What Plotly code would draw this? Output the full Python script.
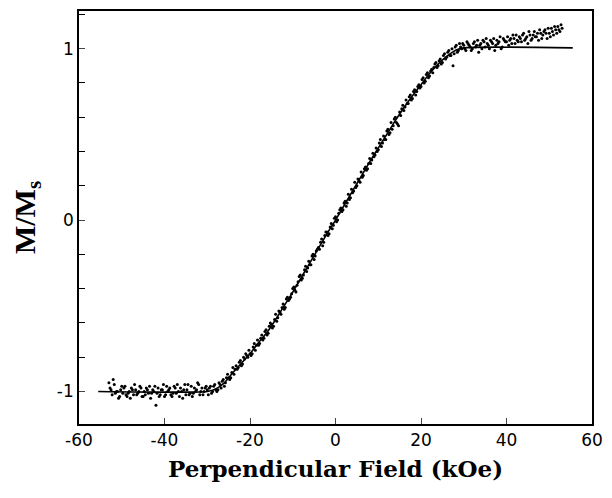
import plotly.graph_objects as go

# Fitted curve (solid line)
fit_field = [-55.5, -30, -28, -26, -24, -22, -20, -18, -16, -14, -12, -10, -8, -6, -4, -2,
             0, 2, 4, 6, 8, 10, 12, 14, 16, 18, 20, 22, 24, 26, 28, 30, 55.5]
fit_m = [-1.0, -1.0, -0.985, -0.95, -0.89, -0.835, -0.78, -0.715, -0.655, -0.58, -0.50, -0.42,
         -0.335, -0.25, -0.165, -0.08, 0.0, 0.085, 0.17, 0.255, 0.34, 0.42, 0.50, 0.58, 0.655,
         0.725, 0.79, 0.855, 0.91, 0.955, 0.99, 1.005, 1.005]

# Measured points, first sweep
field_a = [
    -53.0, -52.5, -52.0, -51.5, -51.0, -50.5, -50.0, -49.5, -49.0, -48.5, -48.0, -47.5, -47.0, -46.5,
    -46.0, -45.5, -45.0, -44.5, -44.0, -43.5, -43.0, -42.5, -42.0, -41.5, -41.0, -40.5, -40.0, -39.5,
    -39.0, -38.5, -38.0, -37.5, -37.0, -36.5, -36.0, -35.5, -35.0, -34.5, -34.0, -33.5, -33.0, -32.5,
    -32.0, -31.5, -31.0, -30.5, -30.0,
    -29.5, -29.0, -28.5, -28.0, -27.5, -27.0, -26.5, -26.0, -25.5, -25.0,
    -24.5, -24.0, -23.5, -23.0, -22.5, -22.0, -21.5, -21.0, -20.5, -20.0,
    -19.5, -19.0, -18.5, -18.0, -17.5, -17.0, -16.5, -16.0, -15.5, -15.0,
    -14.5, -14.0, -13.5, -13.0, -12.5, -12.0, -11.5, -11.0, -10.5, -10.0,
    -9.5, -9.0, -8.5, -8.0, -7.5, -7.0, -6.5, -6.0, -5.5, -5.0,
    -4.5, -4.0, -3.5, -3.0, -2.5, -2.0, -1.5, -1.0, -0.5, 0.0,
    0.5, 1.0, 1.5, 2.0, 2.5, 3.0, 3.5, 4.0, 4.5, 5.0,
    5.5, 6.0, 6.5, 7.0, 7.5, 8.0, 8.5, 9.0, 9.5, 10.0,
    10.5, 11.0, 11.5, 12.0, 12.5, 13.0, 13.5, 14.0, 14.5, 15.0,
    15.5, 16.0, 16.5, 17.0, 17.5, 18.0, 18.5, 19.0, 19.5, 20.0,
    20.5, 21.0, 21.5, 22.0, 22.5, 23.0, 23.5, 24.0, 24.5, 25.0,
    25.5, 26.0, 26.5, 27.0, 27.5, 28.0, 28.5, 29.0, 29.5,
    30.0, 30.5, 31.0, 31.5, 32.0, 32.5, 33.0, 33.5, 34.0, 34.5,
    35.0, 35.5, 36.0, 36.5, 37.0, 37.5, 38.0, 38.5, 39.0, 39.5,
    40.0, 40.5, 41.0, 41.5, 42.0, 42.5, 43.0, 43.5, 44.0, 44.5,
    45.0, 45.5, 46.0, 46.5, 47.0, 47.5, 48.0, 48.5, 49.0, 49.5,
    50.0, 50.5, 51.0, 51.5, 52.0, 52.5, 53.0,
]
m_a = [
    -0.95, -0.99, -0.93, -1.01, -1.00, -1.03, -0.97, -0.98, -1.02, -1.01, -1.04, -0.99, -0.96, -1.02,
    -1.00, -0.98, -1.03, -1.02, -0.99, -0.97, -1.01, -1.00, -1.08, -0.98, -1.02, -0.99, -1.03, -0.97,
    -0.99, -1.02, -1.01, -0.98, -0.96, -1.03, -1.00, -0.99, -1.02, -0.96, -1.01, -1.03, -0.98, -0.99,
    -0.96, -1.00, -1.02, -0.98, -0.99,
    -0.98, -1.01, -0.97, -0.99, -0.99, -0.96, -0.94, -0.97, -0.92, -0.92,
    -0.92, -0.86, -0.87, -0.87, -0.83, -0.85, -0.80, -0.78, -0.80, -0.78,
    -0.78, -0.72, -0.73, -0.73, -0.69, -0.70, -0.65, -0.67, -0.62, -0.61,
    -0.62, -0.55, -0.57, -0.54, -0.51, -0.52, -0.46, -0.47, -0.45, -0.40,
    -0.41, -0.38, -0.33, -0.35, -0.32, -0.27, -0.28, -0.26, -0.21, -0.23,
    -0.18, -0.16, -0.13, -0.15, -0.09, -0.07, -0.08, -0.02, -0.03, 0.02,
    0.00, 0.06, 0.05, 0.10, 0.08, 0.15, 0.13, 0.16, 0.22, 0.20,
    0.23, 0.28, 0.26, 0.31, 0.30, 0.36, 0.35, 0.37, 0.42, 0.41,
    0.47, 0.45, 0.47, 0.52, 0.50, 0.57, 0.55, 0.60, 0.56, 0.63,
    0.65, 0.64, 0.70, 0.68, 0.73, 0.71, 0.76, 0.75, 0.79, 0.78,
    0.83, 0.81, 0.86, 0.84, 0.88, 0.89, 0.92, 0.90, 0.94, 0.92,
    0.97, 0.95, 0.99, 0.96, 0.90, 1.01, 0.98, 1.03, 1.00,
    1.02, 0.99, 1.03, 1.01, 1.00, 1.04, 1.02, 0.98, 1.03, 1.05,
    1.01, 1.03, 1.00, 1.04, 1.06, 1.02, 1.03, 1.07, 1.01, 1.05,
    1.04, 1.02, 1.06, 1.08, 1.03, 1.05, 1.07, 1.04, 1.09, 1.06,
    1.03, 1.08, 1.06, 1.10, 1.07, 1.05, 1.09, 1.08, 1.11, 1.06,
    1.09, 1.12, 1.08, 1.11, 1.13, 1.10, 1.12,
]

# Measured points, second sweep
field_b = [
    -52.75, -52.25, -51.75, -51.25, -50.75, -50.25, -49.75, -49.25, -48.75, -48.25, -47.75, -47.25, -46.75, -46.25,
    -45.75, -45.25, -44.75, -44.25, -43.75, -43.25, -42.75, -42.25, -41.75, -41.25, -40.75, -40.25, -39.75, -39.25,
    -38.75, -38.25, -37.75, -37.25, -36.75, -36.25, -35.75, -35.25, -34.75, -34.25, -33.75, -33.25, -32.75, -32.25,
    -31.75, -31.25, -30.75, -30.25,
    -29.75, -29.25, -28.75, -28.25, -27.75, -27.25, -26.75, -26.25, -25.75, -25.25,
    -24.75, -24.25, -23.75, -23.25, -22.75, -22.25, -21.75, -21.25, -20.75, -20.25,
    -19.75, -19.25, -18.75, -18.25, -17.75, -17.25, -16.75, -16.25, -15.75, -15.25,
    -14.75, -14.25, -13.75, -13.25, -12.75, -12.25, -11.75, -11.25, -10.75, -10.25,
    -9.75, -9.25, -8.75, -8.25, -7.75, -7.25, -6.75, -6.25, -5.75, -5.25,
    -4.75, -4.25, -3.75, -3.25, -2.75, -2.25, -1.75, -1.25, -0.75, -0.25,
    0.25, 0.75, 1.25, 1.75, 2.25, 2.75, 3.25, 3.75, 4.25, 4.75,
    5.25, 5.75, 6.25, 6.75, 7.25, 7.75, 8.25, 8.75, 9.25, 9.75,
    10.25, 10.75, 11.25, 11.75, 12.25, 12.75, 13.25, 13.75, 14.25, 14.75,
    15.25, 15.75, 16.25, 16.75, 17.25, 17.75, 18.25, 18.75, 19.25, 19.75,
    20.25, 20.75, 21.25, 21.75, 22.25, 22.75, 23.25, 23.75, 24.25, 24.75,
    25.25, 25.75, 26.25, 26.75, 27.25, 27.75, 28.25, 28.75, 29.25, 29.75,
    30.25, 30.75, 31.25, 31.75, 32.25, 32.75, 33.25, 33.75, 34.25, 34.75,
    35.25, 35.75, 36.25, 36.75, 37.25, 37.75, 38.25, 38.75, 39.25, 39.75,
    40.25, 40.75, 41.25, 41.75, 42.25, 42.75, 43.25, 43.75, 44.25, 44.75,
    45.25, 45.75, 46.25, 46.75, 47.25, 47.75, 48.25, 48.75, 49.25, 49.75,
    50.25, 50.75, 51.25, 51.75, 52.25, 52.75,
]
m_b = [
    -0.98, -1.02, -0.96, -1.00, -1.04, -0.99, -1.01, -0.97, -1.03, -1.00, -0.98, -1.02, -0.99, -1.01,
    -0.97, -1.03, -1.00, -0.98, -1.01, -1.04, -0.99, -0.97, -1.01, -1.03, -0.99, -0.96, -1.02, -1.00,
    -0.98, -1.03, -0.97, -1.01, -1.00, -0.98, -1.04, -0.96, -0.99, -1.02, -0.97, -1.01, -1.00, -0.95,
    -1.02, -0.98, -1.00, -0.97,
    -1.02, -0.97, -1.00, -0.96, -1.00, -0.95, -0.98, -0.93, -0.95, -0.90,
    -0.93, -0.89, -0.90, -0.85, -0.86, -0.82, -0.84, -0.81, -0.79, -0.76,
    -0.79, -0.74, -0.76, -0.70, -0.72, -0.67, -0.69, -0.64, -0.66, -0.60,
    -0.63, -0.58, -0.59, -0.53, -0.55, -0.49, -0.51, -0.45, -0.46, -0.43,
    -0.39, -0.42, -0.36, -0.32, -0.34, -0.29, -0.30, -0.24, -0.26, -0.20,
    -0.21, -0.17, -0.17, -0.11, -0.13, -0.07, -0.09, -0.04, -0.05, 0.01,
    -0.01, 0.04, 0.07, 0.06, 0.11, 0.10, 0.12, 0.18, 0.17, 0.19,
    0.24, 0.22, 0.25, 0.30, 0.29, 0.33, 0.33, 0.39, 0.38, 0.40,
    0.45, 0.43, 0.49, 0.47, 0.53, 0.51, 0.53, 0.59, 0.57, 0.55,
    0.61, 0.67, 0.66, 0.68, 0.72, 0.70, 0.75, 0.73, 0.78, 0.77,
    0.82, 0.80, 0.85, 0.83, 0.87, 0.86, 0.91, 0.89, 0.93, 0.91,
    0.96, 0.94, 0.98, 0.96, 1.00, 0.97, 1.02, 0.99, 1.01, 1.03,
    1.00, 1.04, 1.02, 0.99, 1.03, 1.01, 1.05, 1.02, 1.00, 1.04,
    1.06, 1.02, 1.05, 1.03, 0.99, 1.05, 1.04, 1.00, 1.06, 1.04,
    1.07, 1.05, 1.03, 1.06, 1.08, 1.04, 1.06, 1.08, 1.05, 1.07,
    1.10, 1.05, 1.08, 1.07, 1.09, 1.11, 1.06, 1.10, 1.09, 1.12,
    1.07, 1.10, 1.13, 1.09, 1.11, 1.14,
]

x_ticks = [-60, -40, -20, 0, 20, 40, 60]
x_tick_text = ["-60", "-40", "-20", "0", "20", "40", "60"]
y_ticks = [-1, 0, 1]
y_tick_text = ["-1", "0", "1"]

fig = go.Figure()
fig.add_trace(go.Scatter(x=fit_field, y=fit_m, mode="lines",
                         line=dict(color="black", width=1.6, shape="spline", smoothing=0.6),
                         showlegend=False))
fig.add_trace(go.Scatter(x=field_a + field_b, y=m_a + m_b, mode="markers",
                         marker=dict(color="black", size=3), showlegend=False))

# page body adds an 8px margin, so the figure is sized to fit the 612x498 window
fig.update_layout(
    width=604, height=490,
    margin=dict(l=71, r=20, t=1, b=74),
    paper_bgcolor="white", plot_bgcolor="white",
    font=dict(family="DejaVu Sans", color="black", size=17),
    xaxis=dict(range=[-60, 60], tickvals=x_ticks, ticktext=x_tick_text,
               ticks="inside", ticklen=6, tickwidth=1.2,
               showline=True, linecolor="black", linewidth=1.6, mirror=True,
               showgrid=False, zeroline=False,
               title=dict(text="<b>Perpendicular Field (kOe)</b>",
                          font=dict(family="DejaVu Serif", size=23), standoff=12)),
    yaxis=dict(range=[-1.19, 1.22], tickvals=y_ticks, ticktext=y_tick_text,
               ticks="inside", ticklen=6, tickwidth=1.2,
               minor=dict(dtick=0.2, tick0=0, ticks="inside", ticklen=6, tickwidth=1.2,
                          tickcolor="black", showgrid=False),
               showline=True, linecolor="black", linewidth=1.6, mirror=True,
               showgrid=False, zeroline=False,
               title=dict(text="<b>M/M<sub>s</sub></b>",
                          font=dict(family="Liberation Serif", size=30), standoff=15)),
)

fig.write_html("out.html")
